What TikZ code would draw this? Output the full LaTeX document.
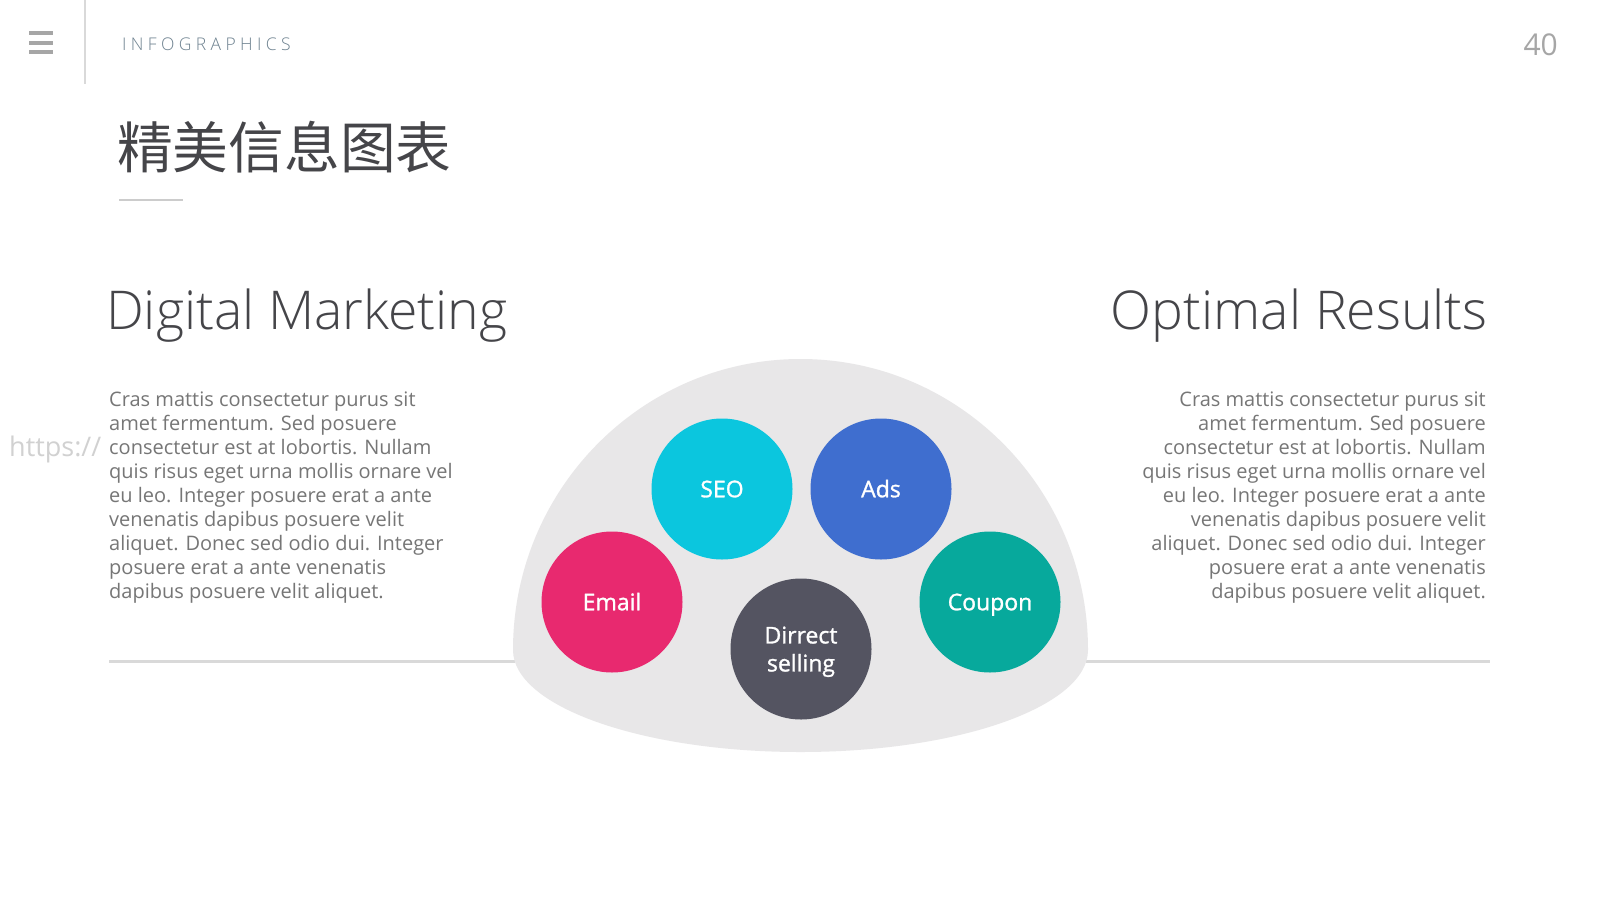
\documentclass[tikz,border=0pt]{standalone}
\usepackage{fontspec}
\setmainfont{Open Sans}
\newfontfamily\cjk{Noto Sans CJK SC}
\IfFontExistsTF{Open Sans Light}{\newfontfamily\lightfont{Open Sans Light}}{\newfontfamily\lightfont{Open Sans}}
\IfFontExistsTF{Open Sans SemiBold}{\newfontfamily\semifont{Open Sans SemiBold}}{\newfontfamily\semifont{Open Sans}[FakeBold=1.2]}
\definecolor{domegray}{HTML}{E8E7E8}
\definecolor{linegray}{HTML}{D9D9D9}
\definecolor{bodygray}{HTML}{767676}
\definecolor{headgray}{HTML}{454549}
\definecolor{seoc}{HTML}{0BC6DE}
\definecolor{adsc}{HTML}{3F6ECF}
\definecolor{emailc}{HTML}{E8296F}
\definecolor{couponc}{HTML}{07A99C}
\definecolor{directc}{HTML}{545461}
\definecolor{infoc}{HTML}{6E8290}
\begin{document}
\begin{tikzpicture}[x=1pt,y=-1pt,
  bubble/.style={circle,minimum size=141pt,inner sep=0pt,text=white,
    font=\semifont\fontsize{23}{28}\selectfont,align=center},
  single/.style={text height=16.5pt,text depth=0pt},
  bodytext/.style={inner sep=0pt,text=bodygray,font=\fontsize{20}{24}\selectfont},
  heading/.style={inner sep=0pt,text=headgray,font=\lightfont\fontsize{53.5}{60}\selectfont},
  rule/.style={line width=3pt,linegray}]
\useasboundingbox (0,0) rectangle (1600,900);
\fill[white] (0,0) rectangle (1600,900);
% header
\fill[gray!70] (29,31) rectangle (53,35);
\fill[gray!70] (29,40.5) rectangle (53,44.5);
\fill[gray!70] (29,50) rectangle (53,54);
\draw[line width=1.5pt,black!15] (85,0) -- (85,84);
\node[inner sep=0pt,anchor=base west,text=infoc,font=\lightfont\addfontfeature{LetterSpace=25}\fontsize{17.5}{20}\selectfont] (info) at (122,50) {INFOGRAPHICS};
\node[inner sep=0pt,anchor=base east,text=black!35,font=\fontsize{30}{32}\selectfont] (page) at (1558,55) {40};
\node[inner sep=0pt,anchor=base west,text=headgray,font=\cjk\fontsize{55.7}{60}\selectfont] (title) at (117,168) {精美信息图表};
\draw[line width=1.5pt,black!20] (119,200) -- (183,200);
% headings
\node[heading,anchor=base west] (dm) at (106,329) {Digital Marketing};
\node[heading,anchor=base east] (or) at (1488,329) {Optimal Results};
% body texts
\node[bodytext,anchor=north west,align=left] (lt) at (109,392) {Cras mattis consectetur purus sit\\amet fermentum. Sed posuere\\consectetur est at lobortis. Nullam\\quis risus eget urna mollis ornare vel\\eu leo. Integer posuere erat a ante\\venenatis dapibus posuere velit\\aliquet. Donec sed odio dui. Integer\\posuere erat a ante venenatis\\dapibus posuere velit aliquet.};
\node[bodytext,anchor=north east,align=right] (rt) at (1486,392) {Cras mattis consectetur purus sit\\amet fermentum. Sed posuere\\consectetur est at lobortis. Nullam\\quis risus eget urna mollis ornare vel\\eu leo. Integer posuere erat a ante\\venenatis dapibus posuere velit\\aliquet. Donec sed odio dui. Integer\\posuere erat a ante venenatis\\dapibus posuere velit aliquet.};
\node[inner sep=0pt,anchor=west,text=black!18,font=\fontsize{27}{29}\selectfont] (wm) at (9,449) {https://};
% rules
\coordinate (ll) at (109,661);
\coordinate (rr) at (1490,661);
\coordinate (dl) at (515,661);
\coordinate (dr) at (1086,661);
\draw[rule] (ll) -- (dl);
\draw[rule] (dr) -- (rr);
% dome
\fill[domegray] (513,650) .. controls (513,489.3) and (641.7,359) .. (800.5,359)
  .. controls (959.3,359) and (1088,489.3) .. (1088,650)
  .. controls (1088,706.3) and (959.3,752) .. (800.5,752)
  .. controls (641.7,752) and (513,706.3) .. (513,650) -- cycle;
% bubbles
\node[bubble,single,fill=seoc] (seo) at (722,489) {SEO};
\node[bubble,single,fill=adsc] (ads) at (881,489) {Ads};
\node[bubble,single,fill=emailc] (email) at (612,602) {Email};
\node[bubble,single,fill=couponc] (coupon) at (990,602) {Coupon};
\node[bubble,fill=directc,text depth=0pt] (direct) at (801,649) {Dirrect\\selling};
\end{tikzpicture}
\end{document}
